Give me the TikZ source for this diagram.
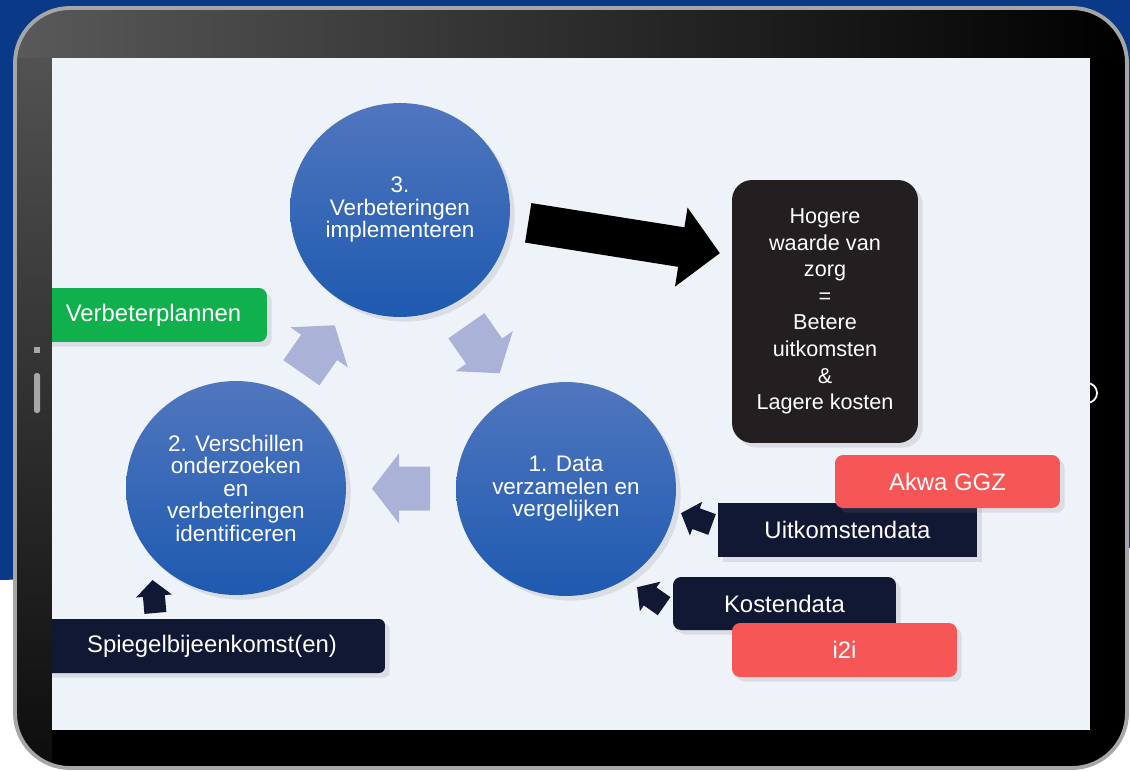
\documentclass[tikz,border=0pt]{standalone}
\usepackage{fontspec}
\setmainfont{Liberation Sans}
\usetikzlibrary{shapes.geometric,shadows,calc}

\definecolor{deskblue}{RGB}{10,58,135}
\definecolor{screenbg}{RGB}{238,242,249}
\definecolor{phasetop}{RGB}{80,118,190}
\definecolor{phasebot}{RGB}{30,90,176}
\definecolor{cyclegray}{RGB}{170,179,215}
\definecolor{tagnavy}{RGB}{16,24,52}
\definecolor{tagred}{RGB}{246,86,86}
\definecolor{taggreen}{RGB}{16,176,76}
\definecolor{resultblack}{RGB}{35,31,32}

\tikzset{
  phase/.style={ellipse, minimum width=4.4cm, minimum height=4.28cm, inner sep=0pt,
    top color=phasetop, bottom color=phasebot, text=white, align=center,
    font=\fontsize{12.8}{12.8}\selectfont, drop shadow={opacity=.18}},
  tag/.style={minimum height=1.08cm, inner sep=0pt, text=white,
    font=\fontsize{13.6}{16}\selectfont, drop shadow={opacity=.18}},
  cyclearrow/.pic={\fill[cyclegray] (-29,-22) -- (2,-22) -- (2,-35) -- (29,0) -- (2,35) -- (2,22) -- (-29,22) -- cycle;},
  feedarrow/.pic={\fill[tagnavy] (-16,-11) -- (1,-11) -- (1,-18) -- (17,0) -- (1,18) -- (1,11) -- (-16,11) -- cycle;},
  bigarrow/.pic={\fill[black] (-97,-20) -- (58,-20) -- (58,-40) -- (97,0) -- (58,40) -- (58,20) -- (-97,20) -- cycle;}
}

\begin{document}
\begin{tikzpicture}[x=0.02cm, y=-0.02cm]
\useasboundingbox (0,0) rectangle (1130,771);
\fill[white] (0,0) rectangle (1130,771);
\fill[deskblue] (0,0) -- (1130,0) -- (1130,548) -- (0,580) -- cycle;

% tablet
\begin{scope}
  \clip[rounded corners=1.1cm] (15,8) rectangle (1127,768);
  \fill[black] (15,8) rectangle (1127,768);
  \shade[left color=black!65, right color=black] (15,8) rectangle (1127,58);
  \shade[top color=black!68, bottom color=black!95] (15,58) rectangle (52,768);
\end{scope}
\draw[black!35, line width=2.2pt, rounded corners=1.1cm] (15,8) rectangle (1127,768);
\fill[black!35] (34,347) rectangle (40,353);
\fill[black!35, rounded corners=1pt] (34,373) rectangle (40,413);
\draw[white, line width=1pt] (1087,383) arc[start angle=-90, end angle=90, radius=10];

\fill[screenbg] (52,58) rectangle (1090,730);

\begin{scope}
\clip (52,58) rectangle (1090,730);

\node[phase] (c3) at (400,210) {3.\\Verbeteringen\\implementeren\\[-10pt]\mbox{}};
\node[phase] (c2) at (236,488) {2. Verschillen\\onderzoeken\\en\\verbeteringen\\identificeren};
\node[phase] (c1) at (566,489) {1. Data\\verzamelen en\\vergelijken};

\pic[rotate=55] at ($(c2.center)!.5!(c3.center)$) {cyclearrow};
\pic[rotate=-55] at ($(c3.center)!.5!(c1.center)$) {cyclearrow};
\pic[rotate=180] at ($(c1.center)!.5!(c2.center)$) {cyclearrow};

\node[fill=resultblack, rounded corners=0.4cm, minimum width=3.72cm, minimum height=5.26cm,
  inner sep=0pt, text=white, align=center, font=\fontsize{12.3}{15.1}\selectfont, drop shadow={opacity=.18}]
  (result) at (825,311.5) {Hogere\\waarde van\\zorg\\=\\Betere\\uitkomsten\\\&\\Lagere kosten};
\pic[rotate=-9] at (624,238) {bigarrow};

\node[tag, fill=taggreen, rounded corners=0.16cm, minimum width=4.54cm] (plans) at (153.5,315) {Verbeterplannen};
\node[tag, fill=tagnavy, rounded corners=0.12cm, minimum width=6.92cm] (mirror) at (212,646) {Spiegelbijeenkomst(en)};
\node[tag, fill=tagnavy, minimum width=5.18cm] (outcome) at (847.5,530) {Uitkomstendata};
\node[tag, fill=tagred, rounded corners=0.16cm, minimum width=4.5cm, minimum height=1.06cm] (akwa) at (947.5,481.5) {Akwa GGZ};
\node[tag, fill=tagnavy, rounded corners=0.16cm, minimum width=4.46cm, minimum height=1.06cm] (costs) at (784.5,603.5) {Kostendata};
\node[tag, fill=tagred, rounded corners=0.16cm, minimum width=4.5cm] (itoi) at (844.5,650) {i2i};

\pic[rotate=95] at (154,597) {feedarrow};
\pic[rotate=145] at (651,597) {feedarrow};
\pic[rotate=160] at (697,519) {feedarrow};
\end{scope}
\end{tikzpicture}
\end{document}
